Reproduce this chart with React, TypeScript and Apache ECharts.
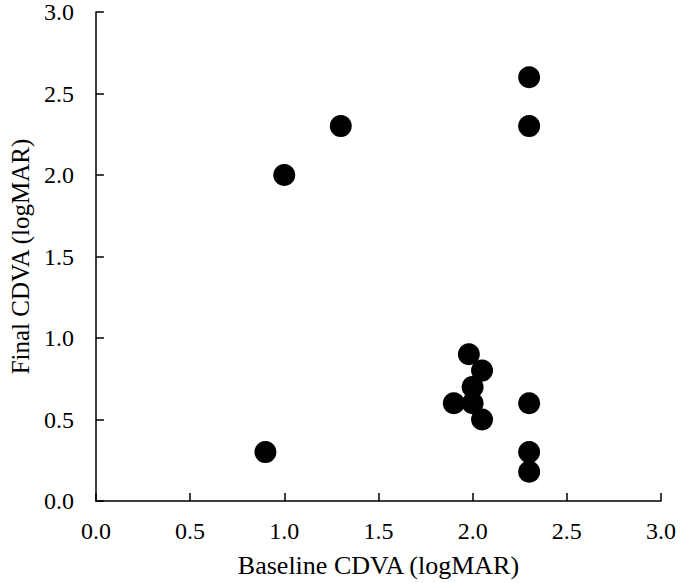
import React, { useEffect, useRef } from "react";
import * as echarts from "echarts";

const baselineCDVA = [0.9, 1.0, 1.3, 2.3, 2.3, 1.98, 2.05, 2.0, 1.9, 2.0, 2.05, 2.3, 2.3, 2.3];
const finalCDVA = [0.3, 2.0, 2.3, 2.6, 2.3, 0.9, 0.8, 0.7, 0.6, 0.6, 0.5, 0.6, 0.3, 0.18];
const xAxisName = "Baseline CDVA (logMAR)";
const yAxisName = "Final CDVA (logMAR)";

const font = "'Liberation Serif', 'Times New Roman', serif";

export default function App() {
  const ref = useRef<HTMLDivElement>(null);
  useEffect(() => {
    if (!ref.current) return;
    const chart = echarts.init(ref.current, undefined, { renderer: "svg" });
    const data = baselineCDVA.map((x, i) => [x, finalCDVA[i]]);
    chart.setOption({
      animation: false,
      backgroundColor: "#ffffff",
      grid: { left: 86, right: 20, top: 10, bottom: 79, containLabel: false },
      xAxis: {
        type: "value",
        min: 0,
        max: 3,
        interval: 0.5,
        name: xAxisName,
        nameLocation: "middle",
        nameGap: 51,
        nameTextStyle: { fontFamily: font, fontSize: 26, color: "#000" },
        axisLine: { show: true, lineStyle: { color: "#000", width: 1.5 } },
        axisTick: { show: true, inside: true, length: 8, lineStyle: { color: "#000", width: 1.5 } },
        axisLabel: {
          fontFamily: font,
          fontSize: 24,
          color: "#000",
          margin: 18,
          formatter: (v: number) => v.toFixed(1),
        },
        splitLine: { show: false },
      },
      yAxis: {
        type: "value",
        min: 0,
        max: 3,
        interval: 0.5,
        name: yAxisName,
        nameLocation: "middle",
        nameGap: 60,
        nameTextStyle: { fontFamily: font, fontSize: 25, color: "#000" },
        axisLine: { show: true, lineStyle: { color: "#000", width: 1.5 } },
        axisTick: { show: true, inside: true, length: 8, lineStyle: { color: "#000", width: 1.5 } },
        axisLabel: {
          fontFamily: font,
          fontSize: 24,
          color: "#000",
          margin: 22,
          formatter: (v: number) => v.toFixed(1),
        },
        splitLine: { show: false },
      },
      series: [
        {
          type: "scatter",
          data,
          symbol: "circle",
          symbolSize: 22,
          itemStyle: { color: "#000", opacity: 1 },
        },
      ],
    });
    return () => chart.dispose();
  }, []);
  return (
    <div
      ref={ref}
      style={{ position: "fixed", left: 0, top: 0, width: 681, height: 583 }}
    />
  );
}
